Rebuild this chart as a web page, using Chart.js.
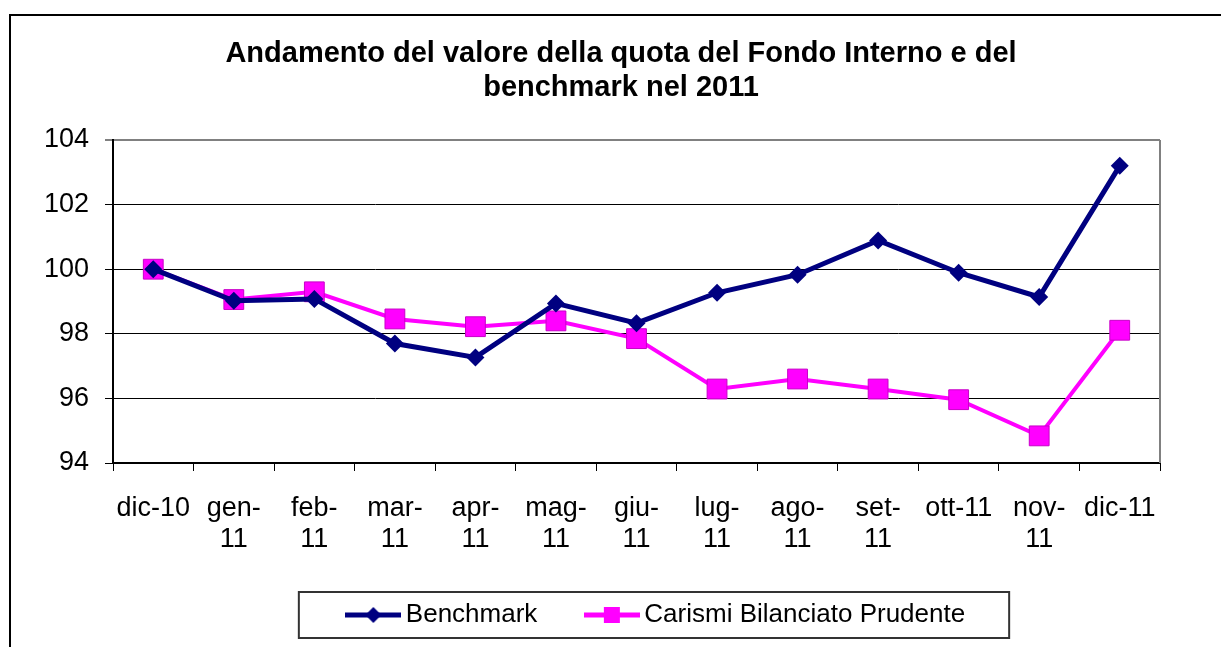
<!DOCTYPE html>
<html>
<head>
<meta charset="utf-8">
<script src="https://cdn.jsdelivr.net/npm/chart.js@4/dist/chart.umd.min.js"></script>
<style>
html,body{margin:0;padding:0;background:#fff;}
#wrap{width:1221px;height:647px;position:relative;}
canvas{display:block;}
</style>
</head>
<body>
<div id="wrap"><canvas id="c" width="1221" height="647"></canvas></div>
<script>
// ---- Data ----
const categories = ['dic-10', ['gen-','11'], ['feb-','11'], ['mar-','11'], ['apr-','11'], ['mag-','11'], ['giu-','11'], ['lug-','11'], ['ago-','11'], ['set-','11'], 'ott-11', ['nov-','11'], 'dic-11'];
const benchmarkValues = [100, 99.02, 99.08, 97.70, 97.27, 98.94, 98.33, 99.27, 99.83, 100.89, 99.89, 99.14, 103.20];
const carismiValues   = [100, 99.06, 99.30, 98.46, 98.22, 98.40, 97.85, 96.29, 96.60, 96.29, 95.96, 94.84, 98.11];
const yTickValues = [94, 96, 98, 100, 102, 104];
const titleLines = ['Andamento del valore della quota del Fondo Interno e del', 'benchmark nel 2011'];
const seriesNames = ['Benchmark', 'Carismi Bilanciato Prudente'];

const FONT = "'Liberation Sans', Arial, Helvetica, sans-serif";
const NAVY = '#000080';
const MAGENTA = '#FF00FF';

function makeIcon(color, shape) {
  const c = document.createElement('canvas');
  c.width = 56; c.height = 22;
  const g = c.getContext('2d');
  g.strokeStyle = color; g.lineWidth = 5;
  g.beginPath(); g.moveTo(0, 11); g.lineTo(56, 11); g.stroke();
  g.fillStyle = color;
  if (shape === 'diamond') {
    g.beginPath(); g.moveTo(28, 3); g.lineTo(36, 11); g.lineTo(28, 19); g.lineTo(20, 11); g.closePath(); g.fill();
  } else {
    g.fillRect(20, 3, 16, 16);
  }
  return c;
}
const icons = [makeIcon(NAVY, 'diamond'), makeIcon(MAGENTA, 'square')];

const framePlugin = {
  id: 'frame',
  afterLayout(chart) {
    const lg = chart.legend;
    if (lg) { lg.left += 23; lg.right += 23; }
    const tt = chart.titleBlock;
    if (tt) { tt.left += 41; tt.right += 41; }
  },
  beforeDraw(chart) {
    const ctx = chart.ctx;
    ctx.save();
    ctx.fillStyle = '#fff';
    ctx.fillRect(0, 0, chart.width, chart.height);
    ctx.strokeStyle = '#000';
    ctx.lineWidth = 2;
    ctx.strokeRect(10, 15, chart.width + 20, chart.height + 20);
    ctx.restore();
  },
  beforeDatasetsDraw(chart) {
    const {ctx, chartArea} = chart;
    ctx.save();
    ctx.strokeStyle = '#808080';
    ctx.lineWidth = 2;
    ctx.beginPath();
    ctx.moveTo(chartArea.right, chartArea.top);
    ctx.lineTo(chartArea.right, chartArea.bottom);
    ctx.stroke();
    ctx.restore();
  },
  afterDraw(chart) {
    const lg = chart.legend;
    if (!lg || !lg.legendHitBoxes || !lg.legendHitBoxes.length) return;
    const hb = lg.legendHitBoxes;
    const first = hb[0], last = hb[hb.length - 1];
    const cy = first.top + first.height / 2;
    const left = first.left - 55;
    const right = last.left + last.width + 44;
    const ctx = chart.ctx;
    ctx.save();
    ctx.strokeStyle = '#333';
    ctx.lineWidth = 2;
    ctx.strokeRect(left, cy - 23, right - left, 46);
    ctx.restore();
  }
};

new Chart(document.getElementById('c'), {
  type: 'line',
  data: {
    labels: categories,
    datasets: [
      {
        label: seriesNames[0],
        data: benchmarkValues,
        borderColor: NAVY,
        backgroundColor: NAVY,
        borderWidth: 5,
        pointStyle: 'rectRot',
        pointRadius: 9,
        pointBorderWidth: 0,
        pointBackgroundColor: NAVY,
        pointBorderColor: NAVY,
        tension: 0,
        fill: false
      },
      {
        label: seriesNames[1],
        data: carismiValues,
        borderColor: MAGENTA,
        backgroundColor: MAGENTA,
        borderWidth: 4,
        pointStyle: 'rect',
        pointRadius: 14,
        pointBorderWidth: 1,
        pointBackgroundColor: MAGENTA,
        pointBorderColor: '#C800C8',
        tension: 0,
        fill: false
      }
    ]
  },
  plugins: [framePlugin],
  options: {
    responsive: false,
    animation: false,
    devicePixelRatio: 1,
    layout: { padding: { left: 0, right: 61, top: 0, bottom: 9 } },
    plugins: {
      title: {
        display: true,
        text: titleLines,
        color: '#000',
        font: { family: FONT, size: 29, weight: 'bold', lineHeight: 34 / 29 },
        padding: { top: 37, bottom: 35 }
      },
      legend: {
        display: true,
        position: 'bottom',
        fullSize: false,
        labels: {
          usePointStyle: true,
          pointStyleWidth: 39,
          padding: 55,
          color: '#000',
          font: { family: FONT, size: 26 },
          generateLabels(chart) {
            return chart.data.datasets.map((ds, i) => ({
              text: ds.label,
              pointStyle: icons[i],
              fillStyle: ds.borderColor,
              strokeStyle: ds.borderColor,
              lineWidth: 0,
              hidden: false,
              datasetIndex: i,
              fontColor: '#000'
            }));
          }
        }
      },
      tooltip: { enabled: false }
    },
    scales: {
      x: {
        type: 'category',
        offset: true,
        grid: { offset: true, drawOnChartArea: false, drawTicks: true, tickLength: 8, color: '#000', lineWidth: 1 },
        border: { color: '#000', width: 2 },
        ticks: { color: '#000', font: { family: FONT, size: 27, lineHeight: 31 / 27 }, padding: 22, maxRotation: 0, minRotation: 0, autoSkip: false },
        afterFit(scale) { scale.height = 84; }
      },
      y: {
        min: yTickValues[0],
        max: yTickValues[yTickValues.length - 1],
        afterBuildTicks(scale) { scale.ticks = yTickValues.map(v => ({ value: v })); },
        grid: {
          color: (ctx) => (ctx.tick && ctx.tick.value === yTickValues[yTickValues.length - 1]) ? '#808080' : '#000',
          lineWidth: (ctx) => (ctx.tick && ctx.tick.value === yTickValues[yTickValues.length - 1]) ? 2 : 1,
          tickLength: 8,
          drawTicks: true
        },
        border: { color: '#000', width: 2 },
        ticks: { color: '#000', font: { family: FONT, size: 27 }, padding: 16 },
        afterFit(scale) { scale.width = 113; }
      }
    }
  }
});
</script>
</body>
</html>
